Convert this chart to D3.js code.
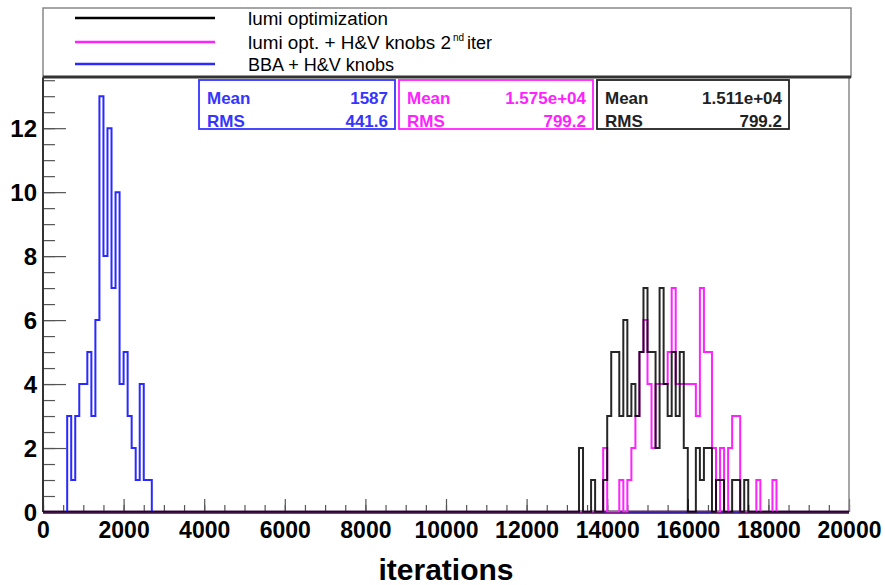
<!DOCTYPE html>
<html><head><meta charset="utf-8">
<script src="https://cdn.jsdelivr.net/npm/d3@7"></script>
<style>
body{margin:0;background:#fff}
text{font-family:"Liberation Sans",Arial,Helvetica,sans-serif}
</style>
</head><body>
<svg id="c" width="885" height="585"></svg>
<script>
// ---------------- data ----------------
const binWidth = 100;
const xDomain = [0, 20000];
const xMajorTicks = [0,2000,4000,6000,8000,10000,12000,14000,16000,18000,20000];
const yMajorTicks = [0,2,4,6,8,10,12];
const xTitle = "iterations";

const seriesNames = ["lumi optimization", "lumi opt. + H&V knobs 2", "BBA + H&V knobs"];
const seriesColors = ["#000000", "#ff22ff", "#2a2aff"];

// BBA + H&V knobs, bins of 100 starting at 600
const blueStart = 600;
const blueCounts = [3,1,3,4,4,5,3,6,13,8,12,7,10,4,5,3,2,1,4,1,1];
// lumi optimization, bins of 100 starting at 13300
const blackStart = 13300;
const blackCounts = [2,0,0,1,0,0,1,3,5,5,3,6,3,4,3,5,7,5,5,2,7,4,3,5,3,5,2,0,0,2,1,2,2,0,1,1,0,0,1,1,0,1];
// lumi opt. + H&V knobs 2nd iter, bins of 100 starting at 13900
const magentaStart = 13900;
const magentaCounts = [2,0,0,0,1,0,1,2,3,5,6,4,2,4,4,4,5,7,4,4,4,4,4,3,7,5,5,2,0,2,0,2,3,3,0,0,0,0,1,0,0,0,1];

const statLabels = ["Mean", "RMS"];
const blueStats = ["1587", "441.6"];
const magentaStats = ["1.575e+04", "799.2"];
const blackStats = ["1.511e+04", "799.2"];

// ---------------- layout ----------------
const L = 43, R = 849, T = 77, B = 512;
const svg = d3.select("#c");
svg.append("rect").attr("width",885).attr("height",585).attr("fill","#fff");

const x = d3.scaleLinear().domain(xDomain).range([L, R]);
const y = d3.scaleLinear().domain([0, 13.6]).range([B, T]);

function fullBins(start, counts){
  const n = (xDomain[1]-xDomain[0])/binWidth;
  const arr = new Array(n).fill(0);
  const off = Math.round((start - xDomain[0])/binWidth);
  counts.forEach((c,i)=>{ arr[off+i] = c; });
  return arr;
}
function stepPoints(arr){
  const pts = [[xDomain[0], 0]];
  arr.forEach((c,i)=>{
    const x0 = xDomain[0] + i*binWidth;
    pts.push([x0, c]); pts.push([x0+binWidth, c]);
  });
  pts.push([xDomain[1], 0]);
  return pts;
}
const line = d3.line().x(d=>x(d[0])).y(d=>y(d[1]));

// ---------------- axes ----------------
const gx = svg.append("g").attr("transform",`translate(0,${B})`);
gx.call(d3.axisBottom(x).tickValues(d3.range(0,20001,500)).tickSize(-7).tickFormat(""))
  .call(g=>g.select(".domain").remove());
gx.selectAll(".tick line").attr("stroke","#555").attr("stroke-width",1.2);
const gx2 = svg.append("g").attr("transform",`translate(0,${B})`);
gx2.call(d3.axisBottom(x).tickValues(xMajorTicks).tickSize(-13).tickPadding(10).tickFormat(d3.format("d")))
  .call(g=>g.select(".domain").remove());
gx2.selectAll(".tick line").attr("stroke","#555").attr("stroke-width",1.2);
gx2.selectAll("text").attr("font-size",23).attr("font-weight","bold").attr("fill","#000");

const gy = svg.append("g").attr("transform",`translate(${L},0)`);
gy.call(d3.axisLeft(y).tickValues(d3.range(0,13.6,0.5)).tickSize(-12).tickFormat(""))
  .call(g=>g.select(".domain").remove());
gy.selectAll(".tick line").attr("stroke","#555").attr("stroke-width",1.2);
const gy2 = svg.append("g").attr("transform",`translate(${L},0)`);
gy2.call(d3.axisLeft(y).tickValues(yMajorTicks).tickSize(-23).tickPadding(6).tickFormat(d3.format("d")))
  .call(g=>g.select(".domain").remove());
gy2.selectAll(".tick line").attr("stroke","#555").attr("stroke-width",1.2);
gy2.selectAll("text").attr("font-size",24).attr("font-weight","bold").attr("fill","#000").attr("dy","0.36em");

// frame
svg.append("line").attr("x1",L).attr("x2",L).attr("y1",T).attr("y2",B).attr("stroke","#333").attr("stroke-width",2);
svg.append("line").attr("x1",R).attr("x2",R).attr("y1",T).attr("y2",B).attr("stroke","#888").attr("stroke-width",1.5);
svg.append("line").attr("x1",L).attr("x2",R).attr("y1",B).attr("y2",B).attr("stroke","#4a1a55").attr("stroke-width",3);

// ---------------- histograms ----------------
const hists = [
  {c: seriesColors[2], d: fullBins(blueStart, blueCounts), o:1},
  {c: seriesColors[1], d: fullBins(magentaStart, magentaCounts), o:1},
  {c: seriesColors[0], d: fullBins(blackStart, blackCounts), o:0.85}
];
hists.forEach(h=>{
  svg.append("path").attr("d", line(stepPoints(h.d)))
    .attr("fill","none").attr("stroke",h.c).attr("stroke-width",2).attr("stroke-opacity",h.o);
});
svg.append("line").attr("x1",L).attr("x2",R).attr("y1",B+1).attr("y2",B+1).attr("stroke","#4a1a55").attr("stroke-width",2).attr("stroke-opacity",0.6);

// ---------------- legend ----------------
const lg = svg.append("g");
lg.append("rect").attr("x",L).attr("y",8).attr("width",851-L).attr("height",69)
  .attr("fill","#fff").attr("stroke","#888").attr("stroke-width",1.5);
lg.append("line").attr("x1",L).attr("x2",851).attr("y1",77).attr("y2",77).attr("stroke","#333").attr("stroke-width",3);
const legY = [18, 42, 64];
const legW = [140, 203, 146];
seriesNames.forEach((n,i)=>{
  lg.append("line").attr("x1",75).attr("x2",215).attr("y1",legY[i]).attr("y2",legY[i])
    .attr("stroke",seriesColors[i]).attr("stroke-width",2.5);
  lg.append("text").attr("x",248).attr("y",legY[i]+7).attr("font-size",18).attr("fill","#000")
    .attr("textLength",legW[i]).attr("lengthAdjust","spacingAndGlyphs").text(n);
});
// superscript and suffix of the second entry
lg.append("text").attr("x",453).attr("y",legY[1]-1).attr("font-size",10).attr("fill","#000").text("nd");
lg.append("text").attr("x",467).attr("y",legY[1]+7).attr("font-size",18).attr("fill","#000")
  .attr("textLength",25).attr("lengthAdjust","spacingAndGlyphs").text("iter");

// ---------------- stat boxes ----------------
const boxes = [
  {x:199, w:196, c:"#3535ff", v:blueStats},
  {x:399, w:194, c:"#ff22ff", v:magentaStats},
  {x:597, w:192, c:"#222", v:blackStats}
];
boxes.forEach(b=>{
  const g = svg.append("g");
  g.append("rect").attr("x",b.x).attr("y",80).attr("width",b.w).attr("height",49)
    .attr("fill","#fff").attr("stroke",b.c).attr("stroke-width",1.8);
  statLabels.forEach((s,j)=>{
    g.append("text").attr("x",b.x+8).attr("y",104+j*23).attr("font-size",17).attr("font-weight","bold")
      .attr("fill",b.c).text(s);
    g.append("text").attr("x",b.x+b.w-7).attr("y",104+j*23).attr("font-size",17).attr("font-weight","bold")
      .attr("text-anchor","end").attr("fill",b.c).text(b.v[j]);
  });
});

// ---------------- title ----------------
svg.append("text").attr("x",446).attr("y",580).attr("text-anchor","middle")
  .attr("font-size",30).attr("font-weight","bold").attr("fill","#000").text(xTitle);
</script>
</body></html>
